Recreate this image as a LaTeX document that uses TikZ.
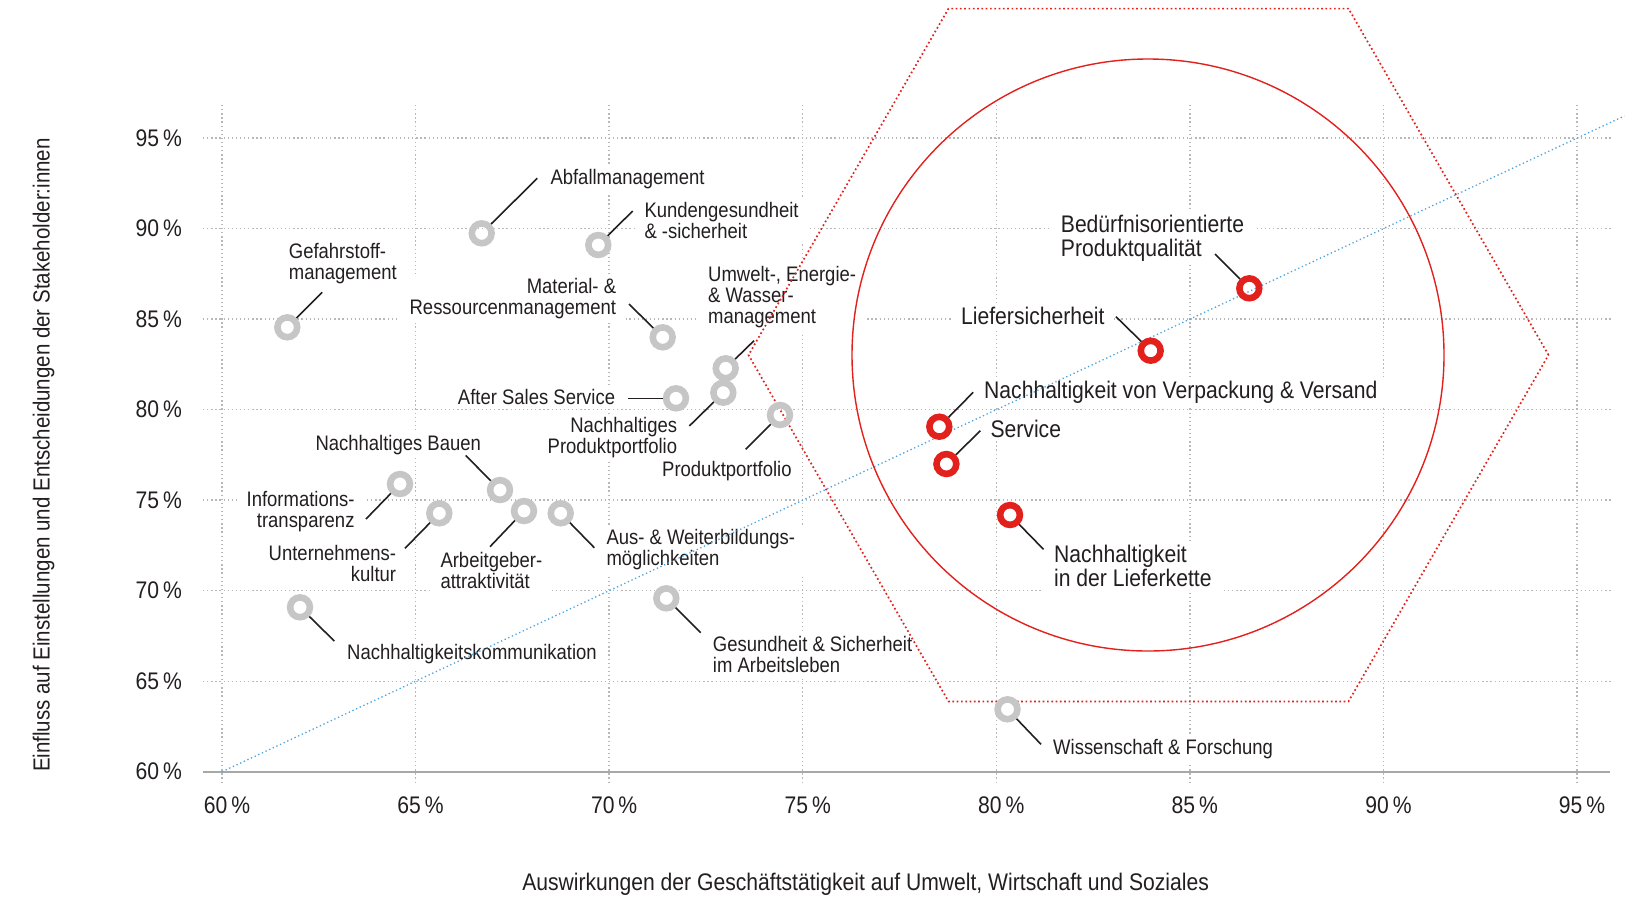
\documentclass[tikz,border=0pt]{standalone}
\usepackage{fontspec}
\setmainfont{Liberation Sans}[FakeStretch=0.88]
\definecolor{ink}{HTML}{231F20}
\definecolor{gridgray}{HTML}{B8B8B8}
\definecolor{axisgray}{HTML}{A8A8A8}
\definecolor{ringgray}{HTML}{C6C6C6}
\definecolor{hotred}{HTML}{E2211C}
\definecolor{trendblue}{HTML}{4AA3DF}
\begin{document}
\begin{tikzpicture}[x=1pt,y=-1pt,
  gridline/.style={draw=gridgray, line width=1.3pt, dash pattern=on 1.3pt off 2.8pt},
  axisline/.style={draw=axisgray, line width=1.8pt},
  ticklbl/.style={text=ink, inner sep=0pt, font=\fontsize{24}{24}\selectfont},
  axistitle/.style={text=ink, inner sep=0pt, font=\fontsize{24}{24}\selectfont},
  lbl/.style={fill=white, text=ink, inner xsep=10pt, inner ysep=4pt, font=\fontsize{21}{21}\selectfont},
  lblred/.style={lbl, font=\fontsize{24}{24}\selectfont},
  ring/.style={circle, draw=ringgray, line width=6.6pt, minimum size=19.8pt, inner sep=0pt},
  ringred/.style={ring, draw=hotred},
  leader/.style={draw=ink, line width=1.6pt},
  trendline/.style={draw=trendblue, line width=1.3pt, dash pattern=on 1.3pt off 2.7pt},
  zoneline/.style={draw=hotred, line width=1.7pt, dash pattern=on 1.7pt off 2.6pt},
  focusline/.style={draw=hotred, line width=1.4pt}]
\useasboundingbox (0,0) rectangle (1632,898);

% grid
\foreach \k in {0,...,7}
  \draw[gridline] ({222+193.57*\k},105) -- ({222+193.57*\k},782);
\foreach \k in {1,...,7}
  \draw[gridline] (203,{771.7-90.53*\k}) -- (1613,{771.7-90.53*\k});
\draw[axisline] (203,771.7) -- (1610,771.7);

% tick labels
\foreach \k/\v in {0/60,1/65,2/70,3/75,4/80,5/85,6/90,7/95} {
  \node[ticklbl, anchor=east] (yt\v) at (182,{771.7-90.53*\k}) {\v\,\%};
  \node[ticklbl] (xt\v) at ({227+193.57*\k},805) {\v\,\%};
}

% axis titles
\node[axistitle, rotate=90, font=\fontsize{23.3}{24}\selectfont] (ytitle) at (43.5,455)
  {Einfluss auf Einstellungen und Entscheidungen der Stakeholder:innen};
\node[axistitle] (xtitle) at (865.6,884)
  {Auswirkungen der Geschäftstätigkeit auf Umwelt, Wirtschaft und Soziales};

% topic labels
\node[lbl, anchor=west, align=left] (t-gef) at (278.7,264) {Gefahrstoff-\\management};
\node[lbl, anchor=west] (t-abf) at (540.3,178.7) {Abfallmanagement};
\node[lbl, anchor=west, align=left] (t-kun) at (634.3,220) {Kundengesundheit\\\& -sicherheit};
\node[lbl, anchor=east, align=right] (t-mat) at (626.3,298.4) {Material- \&\\Ressourcenmanagement};
\node[lbl, anchor=west, align=left] (t-umw) at (698,297.5) {Umwelt-, Energie-\\\& Wasser-\\management};
\node[lbl, anchor=east, align=right] (t-npp) at (687.3,438) {Nachhaltiges\\Produktportfolio};
\node[lbl, anchor=east] (t-ass) at (625.3,397) {After Sales Service};
\node[lbl, anchor=west] (t-ppf) at (652,471) {Produktportfolio};
\node[lbl, anchor=west] (t-bau) at (305.3,444.7) {Nachhaltiges Bauen};
\node[lbl, anchor=east, align=right] (t-inf) at (364.7,511.7) {Informations-\\transparenz};
\node[lbl, anchor=east, align=right] (t-unt) at (406.3,563.2) {Unternehmens-\\kultur};
\node[lbl, anchor=west, align=left] (t-arb) at (430.3,570.3) {Arbeitgeber-\\attraktivität};
\node[lbl, anchor=west, align=left] (t-aus) at (596.3,549.8) {Aus- \& Weiterbildungs-\\möglichkeiten};
\node[lbl, anchor=west] (t-kom) at (337,653.7) {Nachhaltigkeitskommunikation};
\node[lbl, anchor=west, align=left] (t-ges) at (702.7,654.8) {Gesundheit \& Sicherheit\\im Arbeitsleben};
\node[lbl, anchor=west] (t-wis) at (1043,748.7) {Wissenschaft \& Forschung};

\node[lblred, anchor=west, align=left] (t-bed) at (1050.7,238) {Bedürfnisorientierte\\Produktqualität};
\node[lblred, anchor=east] (t-lie) at (1114.6,316) {Liefersicherheit};
\node[lblred, anchor=west] (t-ver) at (974,392) {Nachhaltigkeit von Verpackung \& Versand};
\node[lblred, anchor=west] (t-ser) at (980.4,428.5) {Service};
\node[lblred, anchor=west, align=left] (t-lfk) at (1044,565.7) {Nachhaltigkeit\\in der Lieferkette};

% diagonal reference line
\coordinate (d0) at (222,771.7);
\coordinate (d1) at (1624.3,116);
\draw[trendline] (d0) -- (d1);

% focus zone: dotted hexagon and circle
\coordinate (h1) at (1548.5,355);
\coordinate (h2) at (1348.5,8.6);
\coordinate (h3) at (948.5,8.6);
\coordinate (h4) at (748.5,355);
\coordinate (h5) at (948.5,701.4);
\coordinate (h6) at (1348.5,701.4);
\draw[zoneline] (h1) -- (h2) -- (h3) -- (h4) -- (h5) -- (h6) -- cycle;
\coordinate (fc) at (1148,355);
\draw[focusline] (fc) circle[radius=296];

% data points
\node[ring] (p-gef) at (287.3,327.3) {};
\node[ring] (p-abf) at (481.7,233.3) {};
\node[ring] (p-kun) at (598.3,245) {};
\node[ring] (p-mat) at (662.7,337.3) {};
\node[ring] (p-umw) at (725.7,368.3) {};
\node[ring] (p-npp) at (723.3,392.7) {};
\node[ring] (p-ass) at (676,398.3) {};
\node[ring] (p-ppf) at (780,415) {};
\node[ring] (p-bau) at (500,490) {};
\node[ring] (p-inf) at (400,484) {};
\node[ring] (p-unt) at (439.3,513.3) {};
\node[ring] (p-arb) at (524,511) {};
\node[ring] (p-aus) at (560.7,513.3) {};
\node[ring] (p-kom) at (300,607.3) {};
\node[ring] (p-ges) at (666.3,598.3) {};
\node[ring] (p-wis) at (1007.5,709.3) {};
\node[ringred] (p-bed) at (1249.3,288.3) {};
\node[ringred] (p-lie) at (1150.7,350.7) {};
\node[ringred] (p-ver) at (939.3,426.7) {};
\node[ringred] (p-ser) at (946.4,464) {};
\node[ringred] (p-lfk) at (1010,515) {};

% leader lines
\foreach \n/\x/\y in {gef/322.3/292.3, abf/537.3/178.3, kun/632.7/211, mat/629/304,
    umw/754/340.7, npp/689.3/426, ass/627.7/398.3, ppf/745.7/449.3, bau/465.7/455.5,
    inf/366/519, unt/405/548.3, arb/490/546.7, aus/594.3/547.7, kom/334.3/641,
    ges/700.7/632.7, wis/1041/744.3, bed/1215/254, lie/1116/316.7, ver/973.2/392.3,
    ser/980.4/430.7, lfk/1043.5/549.3} {
  \coordinate (c-\n) at (\x,\y);
  \draw[leader] (c-\n) -- (p-\n);
}
\end{tikzpicture}
\end{document}
